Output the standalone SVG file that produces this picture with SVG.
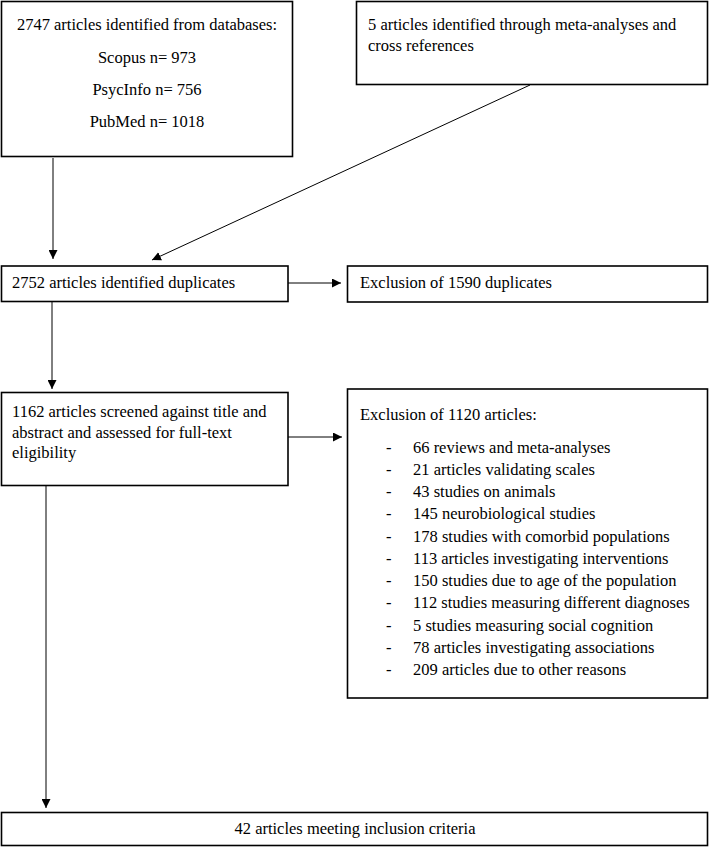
<svg xmlns="http://www.w3.org/2000/svg" width="709" height="847" viewBox="0 0 709 847">
<defs>
<marker id="ah" viewBox="0 0 10 10" refX="10" refY="5" markerWidth="9" markerHeight="9" markerUnits="userSpaceOnUse" orient="auto">
<path d="M0,0 L10,5 L0,10 Z" fill="#000"/>
</marker>
<style>
.box{fill:#fff;stroke:#000;stroke-width:1.6}
.t{font-family:"Liberation Serif","Times New Roman",serif;font-size:16.5px;fill:#000}
.c{text-anchor:middle}
.ln{stroke:#000;stroke-width:1;fill:none;marker-end:url(#ah)}
</style>
</defs>
<rect width="709" height="847" fill="#fff"/>
<g id="connectors">
<line class="ln" x1="53" y1="158" x2="53" y2="259"/>
<line class="ln" x1="530" y1="85" x2="152" y2="260"/>
<line class="ln" x1="288" y1="283" x2="341" y2="283"/>
<line class="ln" x1="52" y1="302" x2="52" y2="389"/>
<line class="ln" x1="288" y1="437" x2="342" y2="437"/>
<line class="ln" x1="46" y1="486" x2="46" y2="808"/>
</g>
<g id="n1">
<rect class="box" x="1.5" y="1.5" width="291" height="155"/>
<text class="t c" x="147" y="30">2747 articles identified from databases:</text>
<text class="t c" x="147" y="63">Scopus n= 973</text>
<text class="t c" x="147" y="95">PsycInfo n= 756</text>
<text class="t c" x="147" y="127">PubMed n= 1018</text>
</g>
<g id="n2">
<rect class="box" x="356.5" y="1.5" width="351" height="83"/>
<text class="t" x="368" y="30">5 articles identified through meta-analyses and</text>
<text class="t" x="368" y="51">cross references</text>
</g>
<g id="n3">
<rect class="box" x="1.5" y="266" width="286.5" height="35.5"/>
<text class="t" x="12" y="288">2752 articles identified duplicates</text>
</g>
<g id="n4">
<rect class="box" x="347.5" y="266" width="360" height="36"/>
<text class="t" x="360" y="288">Exclusion of 1590 duplicates</text>
</g>
<g id="n5">
<rect class="box" x="1.5" y="392.5" width="286.5" height="93"/>
<text class="t" x="12" y="417">1162 articles screened against title and</text>
<text class="t" x="12" y="438">abstract and assessed for full-text</text>
<text class="t" x="12" y="458">eligibility</text>
</g>
<g id="n6">
<rect class="box" x="347.5" y="389" width="360" height="309"/>
<text class="t" x="360" y="420">Exclusion of 1120 articles:</text>
<g class="t">
<text x="386" y="453">-</text><text x="413" y="453">66 reviews and meta-analyses</text>
<text x="386" y="475">-</text><text x="413" y="475">21 articles validating scales</text>
<text x="386" y="497">-</text><text x="413" y="497">43 studies on animals</text>
<text x="386" y="519">-</text><text x="413" y="519">145 neurobiological studies</text>
<text x="386" y="542">-</text><text x="413" y="542">178 studies with comorbid populations</text>
<text x="386" y="564">-</text><text x="413" y="564">113 articles investigating interventions</text>
<text x="386" y="586">-</text><text x="413" y="586">150 studies due to age of the population</text>
<text x="386" y="608">-</text><text x="413" y="608">112 studies measuring different diagnoses</text>
<text x="386" y="631">-</text><text x="413" y="631">5 studies measuring social cognition</text>
<text x="386" y="653">-</text><text x="413" y="653">78 articles investigating associations</text>
<text x="386" y="675">-</text><text x="413" y="675">209 articles due to other reasons</text>
</g>
</g>
<g id="n7">
<rect class="box" x="1.5" y="812.5" width="706" height="33"/>
<text class="t c" x="355" y="834">42 articles meeting inclusion criteria</text>
</g>
</svg>
